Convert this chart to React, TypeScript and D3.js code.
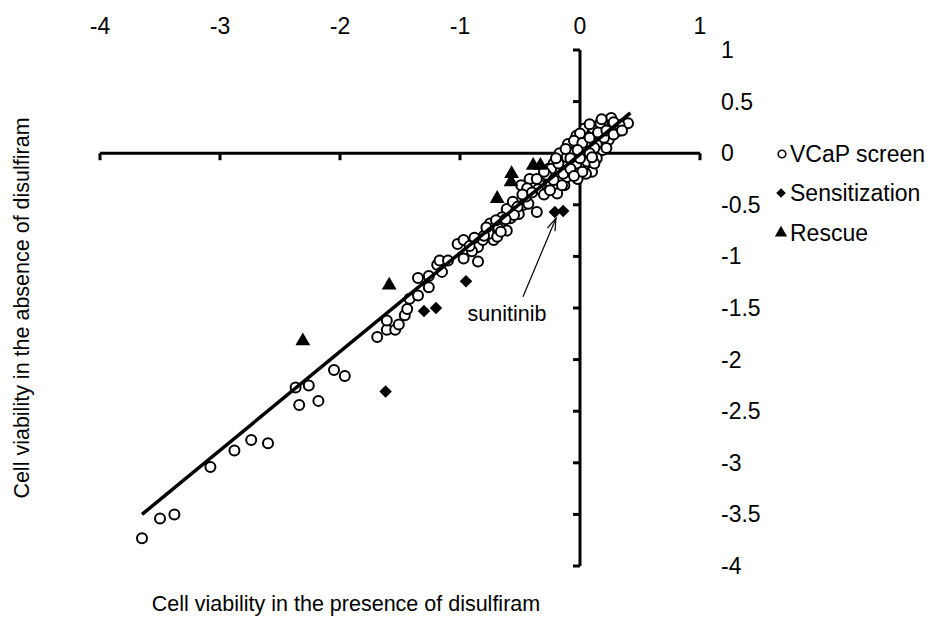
import React from 'react';
import * as d3 from 'd3';

const xTicks = [-4, -3, -2, -1, 0, 1];
const yTicks = [1, 0.5, 0, -0.5, -1, -1.5, -2, -2.5, -3, -3.5, -4];

const vcapX = [
  -3.65, -3.5, -3.38, -3.08, -2.88, -2.74, -2.6, -2.37, -2.34, -2.26, -2.18, -2.05, -1.96,
  -1.69, -1.61, -1.61, -1.54, -1.51, -1.46, -1.44, -1.42, -1.35, -1.35, -1.26, -1.26, -1.19,
  -1.17, -1.15, -1.1, -1.02, -0.97, -0.97, -0.85, -0.85, -0.81, -0.72, -0.76, -0.75, -0.68,
  -0.69, -0.61, -0.58, -0.61, -0.56, -0.51, -0.47, -0.43, -0.36, -0.49, -0.39, -0.42, -0.31,
  -0.33, -0.25, -0.19, -0.26, -0.22, -0.15, -0.13, -0.1, -0.06, 0.03, -0.03, -0.11, -0.24,
  -0.28, -0.22, -0.14, -0.06, -0.15, -0.44, 0.1, 0.04, 0.14, 0.24, 0.26, 0.31, 0.4, 0.33,
  0.19, 0.1, -0.03, -0.1, -0.06, -0.17, -0.11, -0.03, 0.06, 0.14, 0.19, 0.24, 0.14, 0.06,
  0.01, 0.0, 0.11, 0.17, -0.9, -0.8, -0.65, -0.52, -0.45, -0.35, -0.08, 0.05, 0.12, 0.2,
  0.05, -0.02, 0.0,
  -0.05, 0.02, 0.08, 0.15, 0.22, 0.28, 0.18, 0.08, -0.02, 0.08, 0.12, 0.02, -0.08, -0.18,
  -0.2, -0.12, -0.3, -0.36, -0.4, -0.48, -0.55, -0.62, -0.7, -0.66, -0.78, -0.88, -0.92,
  -0.3, 0.22, 0.28, 0.35, -0.25, -0.05, 0.1,
];
const vcapY = [
  -3.73, -3.54, -3.5, -3.04, -2.88, -2.78, -2.81, -2.27, -2.44, -2.25, -2.4, -2.1, -2.16,
  -1.78, -1.71, -1.62, -1.71, -1.66, -1.57, -1.51, -1.41, -1.38, -1.21, -1.19, -1.3, -1.08,
  -1.04, -1.15, -1.04, -0.88, -0.84, -1.02, -0.91, -1.05, -0.84, -0.84, -0.78, -0.68, -0.73,
  -0.81, -0.75, -0.63, -0.54, -0.47, -0.59, -0.5, -0.49, -0.57, -0.31, -0.29, -0.25, -0.23,
  -0.31, -0.28, -0.39, -0.15, -0.1, 0.0, -0.31, 0.08, -0.1, -0.13, -0.17, -0.23, -0.15,
  -0.21, -0.26, -0.2, -0.18, -0.31, -0.34, -0.18, 0.24, 0.26, 0.32, 0.34, 0.21, 0.29, 0.27,
  0.29, 0.19, 0.17, 0.09, 0.0, 0.0, -0.04, -0.1, -0.08, -0.05, 0.03, 0.13, 0.09, 0.09,
  0.06, 0.19, 0.24, 0.29, -0.95, -0.8, -0.62, -0.52, -0.42, -0.35, -0.05, 0.02, 0.05, 0.15,
  -0.2, -0.25, -0.05,
  0.12, 0.1, 0.15, 0.2, 0.22, 0.3, 0.33, 0.28, 0.03, 0.0, -0.1, -0.18, -0.15, -0.1,
  -0.05, 0.04, -0.18, -0.25, -0.38, -0.4, -0.6, -0.64, -0.65, -0.76, -0.72, -0.82, -0.9,
  -0.4, 0.05, 0.18, 0.22, -0.36, -0.22, -0.04,
];

const sensX = [-0.21, -0.14, -0.95, -1.62, -1.3, -1.2];
const sensY = [-0.57, -0.56, -1.24, -2.31, -1.53, -1.5];

const rescueX = [-2.31, -1.59, -0.69, -0.57, -0.575, -0.39, -0.33];
const rescueY = [-1.82, -1.28, -0.44, -0.2, -0.28, -0.12, -0.12];

const trendX = [-3.65, 0.42];
const trendY = [-3.5, 0.39];

const arrowX = [-0.475, -0.2];
const arrowY = [-1.39, -0.63];

const legendItems = ['VCaP screen', 'Sensitization', 'Rescue'];

const FONT = "'Liberation Sans', Arial, sans-serif";
const FS = 23;
const TFS = 21.5;

export default function App() {
  const W = 935;
  const H = 619;
  const x = d3.scaleLinear().domain([-4, 1]).range([100, 700]);
  const y = d3.scaleLinear().domain([-4, 1]).range([566, 50]);

  const tri = d3.symbol().type(d3.symbolTriangle).size(95)();
  const dia = d3.symbol().type(d3.symbolSquare).size(78)();
  const triL = d3.symbol().type(d3.symbolTriangle).size(66)();
  const diaL = d3.symbol().type(d3.symbolSquare).size(46)();

  const ax0 = x(arrowX[0]);
  const ay0 = y(arrowY[0]);
  const ax1 = x(arrowX[1]);
  const ay1 = y(arrowY[1]);
  const ang = Math.atan2(ay1 - ay0, ax1 - ax0);
  const hl = 13;
  const spread = 0.32;
  const h1 = [ax1 - hl * Math.cos(ang - spread), ay1 - hl * Math.sin(ang - spread)];
  const h2 = [ax1 - hl * Math.cos(ang + spread), ay1 - hl * Math.sin(ang + spread)];

  const legendY = [154, 193, 233];

  return (
    <svg
      width={W}
      height={H}
      style={{ position: 'absolute', left: 0, top: 0, background: '#fff' }}
      fontFamily={FONT}
    >
      <rect width={W} height={H} fill="#fff" />
      <line x1={x(-4)} x2={x(1)} y1={y(0)} y2={y(0)} stroke="#000" strokeWidth={3} />
      {xTicks.map((t) => (
        <line key={'xt' + t} x1={x(t)} x2={x(t)} y1={y(0)} y2={y(0) + 7} stroke="#000" strokeWidth={3} />
      ))}
      <line x1={x(0)} x2={x(0)} y1={y(1)} y2={y(-4)} stroke="#000" strokeWidth={3} />
      {yTicks.map((t) => (
        <line key={'yt' + t} x1={x(0) - 7} x2={x(0)} y1={y(t)} y2={y(t)} stroke="#000" strokeWidth={3} />
      ))}
      {xTicks.map((t) => (
        <text key={'xl' + t} x={x(t)} y={34} textAnchor="middle" fontSize={FS} fill="#000">
          {String(t)}
        </text>
      ))}
      {yTicks.map((t) => (
        <text key={'yl' + t} x={721} y={y(t) + 8} textAnchor="start" fontSize={FS} fill="#000">
          {String(t)}
        </text>
      ))}
      {vcapX.map((v, i) => (
        <circle key={'c' + i} cx={x(v)} cy={y(vcapY[i])} r={5} fill="#fff" stroke="#000" strokeWidth={2} />
      ))}
      {sensX.map((v, i) => (
        <path key={'d' + i} d={dia} transform={`translate(${x(v)},${y(sensY[i])}) rotate(45)`} fill="#000" />
      ))}
      {rescueX.map((v, i) => (
        <path key={'t' + i} d={tri} transform={`translate(${x(v)},${y(rescueY[i])})`} fill="#000" />
      ))}
      <line x1={x(trendX[0])} y1={y(trendY[0])} x2={x(trendX[1])} y2={y(trendY[1])} stroke="#000" strokeWidth={3.5} />
      <line x1={ax0} y1={ay0} x2={ax1} y2={ay1} stroke="#000" strokeWidth={1.2} />
      <polyline points={`${h1[0]},${h1[1]} ${ax1},${ay1} ${h2[0]},${h2[1]}`} fill="none" stroke="#000" strokeWidth={1.2} />
      <text x={ax0 - 16} y={ay0 + 24} textAnchor="middle" fontSize={TFS} fill="#000">
        sunitinib
      </text>
      <circle cx={782} cy={legendY[0]} r={3.8} fill="#fff" stroke="#000" strokeWidth={1.6} />
      <path d={diaL} transform={`translate(781,${legendY[1]}) rotate(45)`} fill="#000" />
      <path d={triL} transform={`translate(781,${legendY[2]})`} fill="#000" />
      {legendItems.map((s, i) => (
        <text key={'lg' + i} x={790} y={legendY[i] + 8} fontSize={FS} fill="#000">
          {s}
        </text>
      ))}
      <text transform={`translate(29,${308}) rotate(-90)`} textAnchor="middle" fontSize={TFS} fill="#000">
        Cell viability in the absence of disulfiram
      </text>
      <text x={346} y={611} textAnchor="middle" fontSize={TFS} fill="#000">
        Cell viability in the presence of disulfiram
      </text>
    </svg>
  );
}
